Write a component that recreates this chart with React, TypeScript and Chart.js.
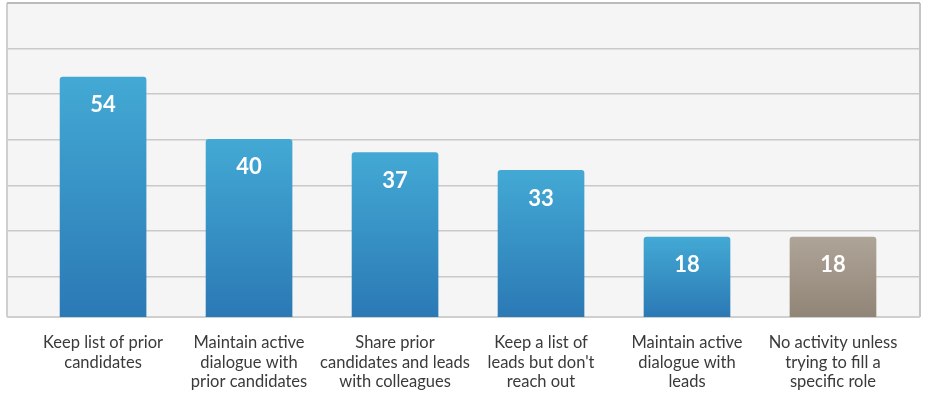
import React, { useEffect, useRef } from "react";
import { Chart, registerables } from "chart.js";

Chart.register(...registerables);

const categories: string[][] = [
  ["Keep list of prior", "candidates"],
  ["Maintain active", "dialogue with", "prior candidates"],
  ["Share prior", "candidates and leads", "with colleagues"],
  ["Keep a list of", "leads but don't", "reach out"],
  ["Maintain active", "dialogue with", "leads"],
  ["No activity unless", "trying to fill a", "specific role"],
];
const values: number[] = [54, 40, 37, 33, 18, 18];
const barKinds: string[] = ["blue", "blue", "blue", "blue", "blue", "gray"];

const Y_MAX = 70.7;
const GRID_STEP = 10.27;

const gradStops: Record<string, [string, string]> = {
  blue: ["#43a9d4", "#2b79b5"],
  gray: ["#aea497", "#918577"],
};

const frame = {
  id: "frame",
  beforeDraw(chart: any) {
    const { ctx, chartArea: a } = chart;
    ctx.save();
    ctx.fillStyle = "#f4f5f4";
    ctx.fillRect(a.left, a.top, a.right - a.left, a.bottom - a.top);
    ctx.restore();
  },
  beforeDatasetsDraw(chart: any) {
    const { ctx, chartArea: a } = chart;
    ctx.save();
    ctx.lineWidth = 2;
    ctx.strokeStyle = "#cfcfcf";
    ctx.beginPath();
    ctx.moveTo(a.left, a.top);
    ctx.lineTo(a.left, a.bottom);
    ctx.stroke();
    ctx.strokeStyle = "#c4c4c4";
    ctx.beginPath();
    ctx.moveTo(a.right, a.top);
    ctx.lineTo(a.right, a.bottom);
    ctx.stroke();
    ctx.strokeStyle = "#bbbbbb";
    ctx.beginPath();
    ctx.moveTo(a.left, a.top);
    ctx.lineTo(a.right, a.top);
    ctx.stroke();
    ctx.strokeStyle = "#cfcfcf";
    ctx.beginPath();
    ctx.moveTo(a.left, a.bottom);
    ctx.lineTo(a.right, a.bottom);
    ctx.stroke();
    ctx.restore();
  },
  afterDatasetsDraw(chart: any) {
    const { ctx } = chart;
    const meta = chart.getDatasetMeta(0);
    ctx.save();
    ctx.fillStyle = "#ffffff";
    ctx.font = "bold 22px Lato";
    ctx.textAlign = "center";
    ctx.textBaseline = "middle";
    meta.data.forEach((el: any, i: number) => {
      ctx.fillText(String(values[i]), el.x, el.y + 28);
    });
    ctx.restore();
  },
};

export default function App() {
  const ref = useRef<HTMLCanvasElement | null>(null);
  useEffect(() => {
    document.body.style.margin = "0";
    const canvas = ref.current!;
    const chart = new Chart(canvas, {
      type: "bar",
      data: {
        datasets: [
          {
            data: values.map((v, i) => ({ x: i, y: v })),
            barThickness: 86,
            borderRadius: { topLeft: 3, topRight: 3, bottomLeft: 0, bottomRight: 0 },
            borderSkipped: "bottom",
            backgroundColor: (c: any) => {
              const kind = barKinds[c.dataIndex] || "blue";
              const stops = gradStops[kind];
              const ys = c.chart.scales && c.chart.scales.y;
              if (!ys || !c.chart.chartArea) return stops[0];
              const top = ys.getPixelForValue(values[c.dataIndex]);
              const bottom = ys.getPixelForValue(0);
              const g = c.chart.ctx.createLinearGradient(0, top, 0, bottom);
              g.addColorStop(0, stops[0]);
              g.addColorStop(1, stops[1]);
              return g;
            },
          },
        ],
      },
      options: {
        responsive: false,
        animation: false,
        layout: { padding: { left: 7, right: 5, top: 3, bottom: 0 } },
        plugins: { legend: { display: false }, tooltip: { enabled: false } },
        scales: {
          x: {
            type: "linear",
            offset: false,
            bounds: "data",
            min: -0.658,
            max: 5.596,
            grid: { display: false, drawTicks: false },
            border: { display: false },
            afterBuildTicks: (s: any) => {
              s.ticks = categories.map((_, i) => ({ value: i }));
            },
            afterFit: (s: any) => {
              s.height = 76;
            },
            ticks: {
              autoSkip: false,
              maxRotation: 0,
              minRotation: 0,
              padding: 16,
              color: "#3a3a3a",
              font: { family: "Lato", size: 16.5, lineHeight: 1.18 },
              callback: (v: any) => categories[Math.round(Number(v))] || "",
            },
          },
          y: {
            min: 0,
            max: Y_MAX,
            border: { display: false },
            grid: { color: "#c9c9c9", lineWidth: 1.5, drawTicks: false },
            afterBuildTicks: (s: any) => {
              const t: any[] = [];
              for (let k = 0; k < 7; k++) t.push({ value: Y_MAX - k * GRID_STEP });
              s.ticks = t;
            },
            afterFit: (s: any) => {
              s.width = 0;
            },
            ticks: { display: false },
          },
        },
      } as any,
      plugins: [frame],
    });
    return () => chart.destroy();
  }, []);
  return (
    <div style={{ width: 925, height: 393 }}>
      <canvas ref={ref} width={925} height={393} style={{ display: "block" }} />
    </div>
  );
}
